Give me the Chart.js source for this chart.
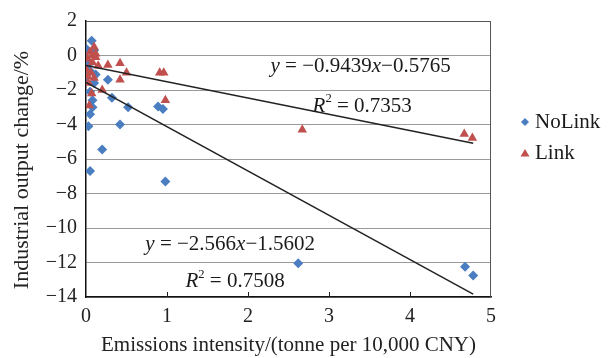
<!DOCTYPE html>
<html>
<head>
<meta charset="utf-8">
<script src="https://cdn.jsdelivr.net/npm/chart.js@4"></script>
<style>
  html, body { margin: 0; padding: 0; background: #fff; }
  #wrap { width: 610px; height: 358px; }
</style>
</head>
<body>
<div id="wrap"><canvas id="chart"></canvas></div>
<script>
// NoLink points (emissions intensity, output change %)
const noLinkX = [0.07, 0.00, 0.10, 0.02, 0.05, 0.00, 0.10, 0.05, 0.08, 0.08, 0.05, 0.03, 0.42, 0.20, 0.05, 0.27, 0.32, 0.52, 0.89, 0.95, 0.98, 2.62, 4.68, 4.78, 0.12, 0.02];
const noLinkY = [0.85, 0.40, 0.30, -0.30, -0.90, -1.50, -1.60, -2.10, -2.60, -3.00, -3.40, -4.10, -4.00, -5.45, -6.70, -1.40, -2.45, -3.00, -2.95, -3.10, -7.30, -12.05, -12.25, -12.75, -1.10, -0.60];

// Link points
const linkX = [0.05, 0.10, 0.02, 0.08, 0.12, 0.00, 0.06, 0.10, 0.03, 0.15, 0.08, 0.04, 0.27, 0.42, 0.50, 0.42, 0.20, 0.91, 0.96, 0.98, 2.67, 4.67, 4.77, 0.12, 0.02, 0.07];
const linkY = [0.20, 0.50, -0.20, -0.40, -0.10, -0.80, -1.00, -1.30, -1.60, -0.60, 0.00, -2.90, -0.55, -0.45, -1.00, -1.40, -2.00, -1.00, -1.00, -2.60, -4.30, -4.55, -4.78, 0.10, -1.20, -2.20];

// trend line end points as drawn
const trendX = [0, 4.78];
const noLinkTrendY = [-1.56, -13.83];
const linkTrendY = [-0.58, -5.09];

const xTicks = [0, 1, 2, 3, 4, 5];
const yTicks = [2, 0, -2, -4, -6, -8, -10, -12, -14];

const blue = 'rgb(74, 126, 193)';
const red = 'rgb(192, 80, 77)';
const serif = "'Liberation Serif', 'Times New Roman', serif";

function pts(xs, ys) {
    return xs.map((x, i) => ({ x: x, y: ys[i] }));
}
function minus(v) {
    return String(v).replace('-', '\u2212');
}

// draw a line of mixed italic / normal / superscript text centred at (cx, cy)
function drawRich(ctx, parts, cx, cy, size) {
    let w = 0;
    parts.forEach(p => {
        const s = p.sup ? size * 0.6 : size;
        ctx.font = (p.it ? 'italic ' : '') + s + 'px ' + serif;
        p.w = ctx.measureText(p.t).width;
        w += p.w;
    });
    let x = cx - w / 2;
    ctx.textBaseline = 'middle';
    ctx.textAlign = 'left';
    ctx.fillStyle = '#1a1a1a';
    parts.forEach(p => {
        const s = p.sup ? size * 0.6 : size;
        ctx.font = (p.it ? 'italic ' : '') + s + 'px ' + serif;
        ctx.fillText(p.t, x, p.sup ? cy - size * 0.35 : cy);
        x += p.w;
    });
}

const extras = {
    id: 'extras',
    afterDatasetsDraw(chart) {
        const ctx = chart.ctx;
        const a = chart.chartArea;
        const sx = chart.scales.x, sy = chart.scales.y;
        ctx.save();
        // frame
        ctx.strokeStyle = '#555';
        ctx.lineWidth = 1;
        ctx.beginPath();
        ctx.moveTo(a.left, a.top + 0.5);
        ctx.lineTo(a.right - 0.5, a.top + 0.5);
        ctx.lineTo(a.right - 0.5, a.bottom);
        ctx.stroke();
        // inward ticks on x axis
        ctx.strokeStyle = '#222';
        xTicks.slice(1, -1).forEach(v => {
            const px = Math.round(sx.getPixelForValue(v)) + 0.5;
            ctx.beginPath();
            ctx.moveTo(px, a.bottom);
            ctx.lineTo(px, a.bottom - 5);
            ctx.stroke();
        });
        // equations
        drawRich(ctx, [{ t: 'y', it: true }, { t: ' = \u22120.9439' }, { t: 'x', it: true }, { t: '\u22120.5765' }],
            sx.getPixelForValue(3.39), sy.getPixelForValue(-0.65), 21);
        drawRich(ctx, [{ t: 'R', it: true }, { t: '2', sup: true }, { t: ' = 0.7353' }],
            sx.getPixelForValue(3.41), sy.getPixelForValue(-2.95), 21);
        drawRich(ctx, [{ t: 'y', it: true }, { t: ' = \u22122.566' }, { t: 'x', it: true }, { t: '\u22121.5602' }],
            sx.getPixelForValue(1.78), sy.getPixelForValue(-10.97), 21);
        drawRich(ctx, [{ t: 'R', it: true }, { t: '2', sup: true }, { t: ' = 0.7508' }],
            sx.getPixelForValue(1.84), sy.getPixelForValue(-13.12), 21);
        // y axis title
        ctx.save();
        ctx.translate(22, 170);
        ctx.rotate(-Math.PI / 2);
        ctx.fillStyle = '#222';
        ctx.font = '22px ' + serif;
        ctx.textAlign = 'center';
        ctx.textBaseline = 'middle';
        ctx.fillText('Industrial output change/%', 0, 0);
        ctx.restore();
        // legend
        const lx = 525;
        const rows = [
            { label: 'NoLink', color: blue, shape: 'diamond', y: 122 },
            { label: 'Link', color: red, shape: 'triangle', y: 153 }
        ];
        rows.forEach(r => {
            ctx.fillStyle = r.color;
            ctx.beginPath();
            if (r.shape === 'diamond') {
                ctx.moveTo(lx, r.y - 4);
                ctx.lineTo(lx + 4, r.y);
                ctx.lineTo(lx, r.y + 4);
                ctx.lineTo(lx - 4, r.y);
            } else {
                ctx.moveTo(lx, r.y - 4);
                ctx.lineTo(lx + 4.5, r.y + 3.5);
                ctx.lineTo(lx - 4.5, r.y + 3.5);
            }
            ctx.closePath();
            ctx.fill();
            ctx.fillStyle = '#1a1a1a';
            ctx.font = '21px ' + serif;
            ctx.textAlign = 'left';
            ctx.textBaseline = 'middle';
            ctx.fillText(r.label, lx + 10, r.y);
        });
        ctx.restore();
    }
};

const ctx = document.getElementById('chart').getContext('2d');
new Chart(ctx, {
    type: 'scatter',
    data: {
        datasets: [
            {
                label: 'NoLink',
                data: pts(noLinkX, noLinkY),
                pointStyle: 'rectRot',
                pointRadius: 5,
                backgroundColor: blue,
                borderColor: blue,
                borderWidth: 0,
                order: 3
            },
            {
                label: 'Link',
                data: pts(linkX, linkY),
                pointStyle: 'triangle',
                pointRadius: 5.5,
                backgroundColor: red,
                borderColor: red,
                borderWidth: 0,
                order: 2
            },
            {
                type: 'line',
                label: 'NoLink trend',
                data: pts(trendX, noLinkTrendY),
                borderColor: '#222',
                borderWidth: 1.5,
                pointRadius: 0,
                fill: false,
                order: 1
            },
            {
                type: 'line',
                label: 'Link trend',
                data: pts(trendX, linkTrendY),
                borderColor: '#222',
                borderWidth: 1.5,
                pointRadius: 0,
                fill: false,
                order: 1
            }
        ]
    },
    options: {
        responsive: true,
        maintainAspectRatio: false,
        animation: false,
        layout: { padding: { top: 15, right: 119, left: 0, bottom: 0 } },
        plugins: {
            legend: { display: false },
            tooltip: { enabled: false }
        },
        scales: {
            x: {
                type: 'linear',
                min: 0,
                max: 5,
                afterFit: s => { s.height = 61; },
                afterBuildTicks: s => { s.ticks = xTicks.map(v => ({ value: v })); },
                ticks: {
                    padding: 8,
                    color: '#222',
                    font: { family: serif, size: 20 }
                },
                grid: { display: false, drawTicks: false },
                border: { display: true, color: '#111', width: 1.5 },
                title: {
                    display: true,
                    text: 'Emissions intensity/(tonne per 10,000 CNY)',
                    color: '#222',
                    font: { family: serif, size: 21 },
                    padding: { top: 1, bottom: 0 }
                }
            },
            y: {
                min: -14,
                max: 2,
                afterFit: s => { s.width = 86; },
                afterBuildTicks: s => { s.ticks = yTicks.map(v => ({ value: v })); },
                ticks: {
                    padding: 9,
                    color: '#222',
                    font: { family: serif, size: 20 },
                    callback: v => minus(v)
                },
                grid: { color: '#999', lineWidth: 1, drawTicks: false },
                border: { display: true, color: '#111', width: 1.5 },
                title: { display: false }
            }
        }
    },
    plugins: [extras]
});
</script>
</body>
</html>
